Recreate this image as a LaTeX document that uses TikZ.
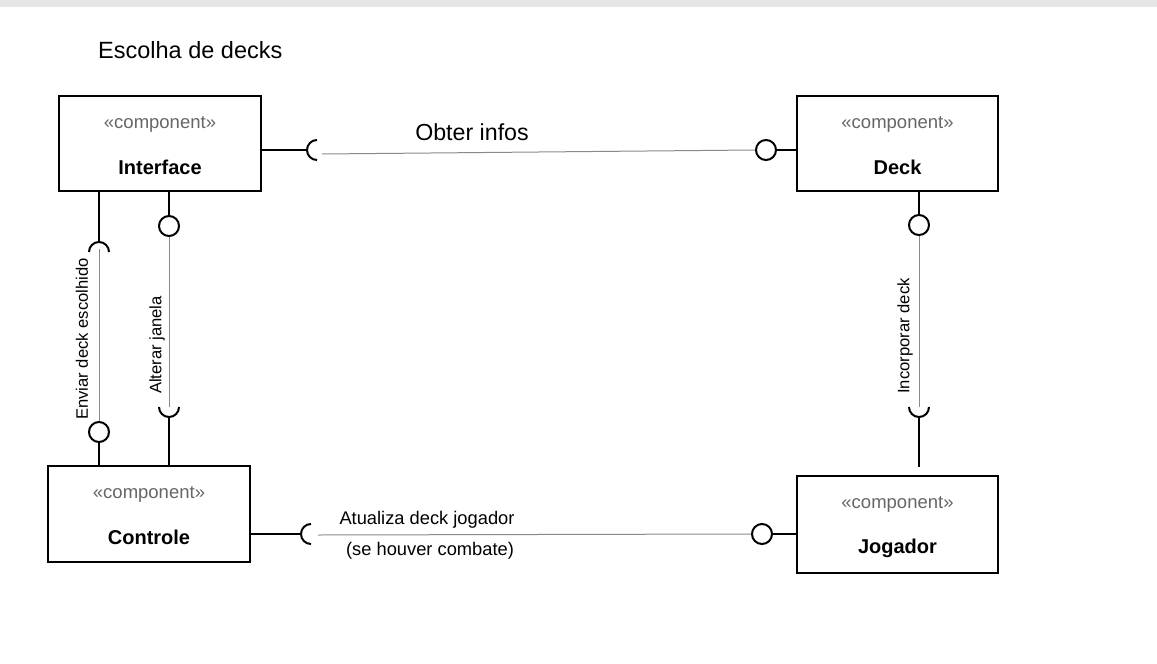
\documentclass[tikz,border=0pt]{standalone}
\usepackage{fontspec}
\setmainfont{Liberation Sans}
\definecolor{topbar}{HTML}{E6E6E6}
\definecolor{stereo}{HTML}{666666}
\definecolor{thinline}{HTML}{8A8A8A}
\begin{document}
\begin{tikzpicture}[x=1pt,y=1pt,
  comp/.style={draw=black,line width=2pt,fill=white,inner sep=0pt},
  stereotxt/.style={text=stereo,font=\fontsize{18.5}{20}\selectfont,inner sep=0pt},
  nametxt/.style={font=\fontsize{20}{22}\selectfont\bfseries,inner sep=0pt},
  ball/.style={circle,draw=black,line width=2pt,fill=white,minimum size=20pt,inner sep=0pt},
  wire/.style={line width=2pt,black},
  thinwire/.style={line width=1pt,thinline},
  sock/.style={line width=2pt,black},
  lbl/.style={font=\fontsize{18.3}{20}\selectfont,inner sep=0pt},
  vlbl/.style={font=\fontsize{16.6}{18}\selectfont,inner sep=0pt,rotate=90}]
\useasboundingbox (0,0) rectangle (1157,-664);
\fill[topbar] (0,0) rectangle (1157,-7);

\node[anchor=west,inner sep=0pt,font=\fontsize{23.5}{26}\selectfont] (title) at (98,-50) {Escolha de decks};

% components
\node[comp,minimum width=202pt,minimum height=95pt] (iface) at (160,-143.5) {};
\node[comp,minimum width=201pt,minimum height=95pt] (deck) at (897.5,-143.5) {};
\node[comp,minimum width=202pt,minimum height=96pt] (ctrl) at (149,-514) {};
\node[comp,minimum width=201pt,minimum height=97pt] (jog) at (897.5,-524.5) {};

\node[stereotxt] (iface-s) at ([yshift=-29pt]iface.north) {«component»};
\node[nametxt] (iface-n) at ([yshift=-72.5pt]iface.north) {Interface};
\node[stereotxt] (deck-s) at ([yshift=-29pt]deck.north) {«component»};
\node[nametxt] (deck-n) at ([yshift=-72.5pt]deck.north) {Deck};
\node[stereotxt] (ctrl-s) at ([yshift=-29pt]ctrl.north) {«component»};
\node[nametxt] (ctrl-n) at ([yshift=-72.5pt]ctrl.north) {Controle};
\node[stereotxt] (jog-s) at ([yshift=-29pt]jog.north) {«component»};
\node[nametxt] (jog-n) at ([yshift=-73pt]jog.north) {Jogador};

% ---- Interface -> Deck (Obter infos)
\coordinate (s1) at (317,-150);
\node[ball] (b1) at (766,-150) {};
\draw[wire] (iface.east |- s1) -- ([xshift=-10pt]s1);
\draw[sock] ([yshift=10pt]s1) arc[start angle=90,end angle=270,radius=10pt];
\draw[thinwire] ([xshift=5pt,yshift=-4pt]s1) -- (b1.west);
\draw[wire] (b1.east) -- (deck.west |- b1);
\node[font=\fontsize{23.2}{26}\selectfont,inner sep=0pt] (l1) at (472,-132) {Obter infos};

% ---- Interface -> Controle (Enviar deck escolhido)
\coordinate (s2) at (99,-252);
\node[ball] (b2) at (99,-432) {};
\draw[wire] (iface.south -| s2) -- ([yshift=10pt]s2);
\draw[sock] ([xshift=10pt]s2) arc[start angle=0,end angle=180,radius=10pt];
\draw[thinwire] ([yshift=3pt]s2) -- (b2.north);
\draw[wire] (b2.south) -- (ctrl.north -| b2);
\node[vlbl] (l2) at (82,-339) {Enviar deck escolhido};

% ---- Interface -> Controle (Alterar janela)
\node[ball] (b3) at (169,-226) {};
\coordinate (s3) at (169,-407);
\draw[wire] (iface.south -| b3) -- (b3.north);
\draw[thinwire] (b3.south) -- (s3);
\draw[sock] ([xshift=-10pt]s3) arc[start angle=180,end angle=360,radius=10pt];
\draw[wire] ([yshift=-10pt]s3) -- (ctrl.north -| s3);
\node[vlbl] (l3) at (157,-345) {Alterar janela};

% ---- Deck -> Jogador (Incorporar deck)
\node[ball] (b4) at (919,-225) {};
\coordinate (s4) at (919,-407);
\coordinate (e4) at (919,-467);
\draw[wire] (deck.south -| b4) -- (b4.north);
\draw[thinwire] (b4.south) -- (s4);
\draw[sock] ([xshift=-10pt]s4) arc[start angle=180,end angle=360,radius=10pt];
\draw[wire] ([yshift=-10pt]s4) -- (e4);
\node[vlbl] (l4) at (905,-336) {Incorporar deck};

% ---- Controle -> Jogador (Atualiza deck jogador)
\coordinate (s5) at (311,-534);
\node[ball] (b5) at (762,-534) {};
\draw[wire] (ctrl.east |- s5) -- ([xshift=-10pt]s5);
\draw[sock] ([yshift=10pt]s5) arc[start angle=90,end angle=270,radius=10pt];
\draw[thinwire] ([xshift=7pt,yshift=-1pt]s5) -- (b5.west);
\draw[wire] (b5.east) -- (jog.west |- b5);
\node[lbl] (l5a) at (427,-520) {Atualiza deck jogador};
\node[lbl] (l5b) at (430,-551) {(se houver combate)};
\end{tikzpicture}
\end{document}
